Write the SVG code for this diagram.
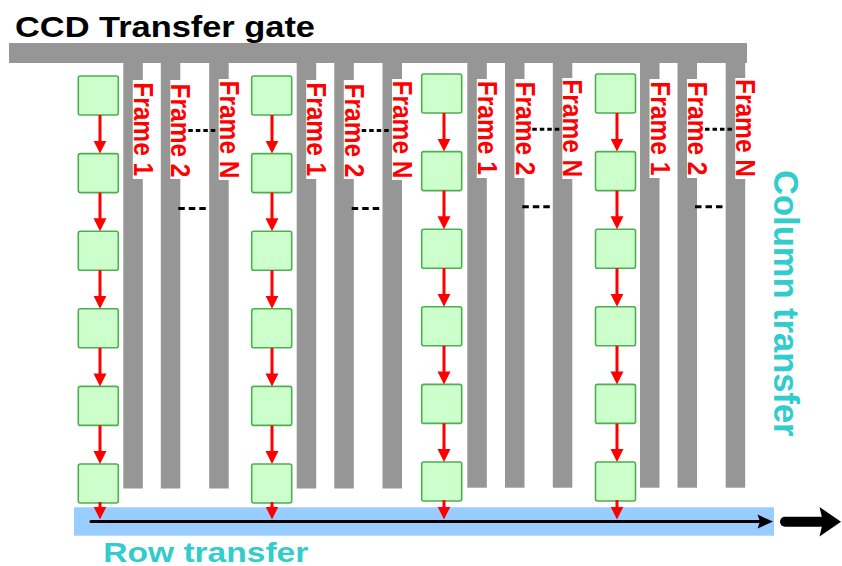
<svg xmlns="http://www.w3.org/2000/svg" width="842" height="566" viewBox="0 0 842 566">
  <style>
    .bar { fill: #969696; }
    .cell { fill: #ccffcc; stroke: #4caf50; stroke-width: 1.6; }
    .flow { stroke: #ff0000; stroke-width: 3; fill: none; marker-end: url(#redHead); }
    .lbl-bg { fill: #ffffff; }
    .frame { font-family: "Liberation Sans", Arial, sans-serif; font-weight: bold; font-size: 24.5px; fill: #ff0000; text-anchor: middle; }
    .dots1 { stroke: #000000; stroke-width: 3; stroke-dasharray: 4.5 3; }
    .dots2 { stroke: #000000; stroke-width: 3; stroke-dasharray: 6.5 4; }
    .title { font-family: "Liberation Sans", Arial, sans-serif; font-weight: bold; font-size: 30px; fill: #000000; }
    .cyan { font-family: "Liberation Sans", Arial, sans-serif; font-weight: bold; fill: #33cccc; }
  </style>
  <defs>
    <marker id="redHead" markerUnits="userSpaceOnUse" markerWidth="14" markerHeight="14" refX="7" refY="6.5" orient="auto">
      <path d="M0,0 L13,6.5 L0,13 Z" fill="#ff0000"/>
    </marker>
  </defs>

  <!-- title -->
  <text class="title" x="15" y="36.7" textLength="300" lengthAdjust="spacingAndGlyphs">CCD Transfer gate</text>

  <!-- transfer gate: top rail and vertical frame columns -->
  <g id="transfer-gate">
    <rect class="bar" x="9" y="43" width="738" height="20"/>
    <rect class="bar" x="123.3" y="62" width="19.5" height="426.5"/>
    <rect class="bar" x="160.8" y="62" width="19.5" height="426.5"/>
    <rect class="bar" x="209.2" y="62" width="19.5" height="426.5"/>
    <rect class="bar" x="296.7" y="62" width="19.5" height="426.5"/>
    <rect class="bar" x="334.3" y="62" width="19.5" height="426.5"/>
    <rect class="bar" x="382.5" y="62" width="19.5" height="426.5"/>
    <rect class="bar" x="467.3" y="62" width="19.5" height="425.7"/>
    <rect class="bar" x="505" y="62" width="19.5" height="425.7"/>
    <rect class="bar" x="552.8" y="62" width="19.5" height="425.7"/>
    <rect class="bar" x="640" y="62" width="19.5" height="425.7"/>
    <rect class="bar" x="677.5" y="62" width="19.5" height="425.7"/>
    <rect class="bar" x="725.7" y="62" width="19.5" height="425.7"/>
  </g>

  <!-- frame labels -->
  <g id="frame-labels">
    <rect class="lbl-bg" x="132.8" y="80" width="21" height="99"/>
    <rect class="lbl-bg" x="170.3" y="80" width="21" height="99"/>
    <rect class="lbl-bg" x="218.7" y="79" width="21" height="101"/>
    <rect class="lbl-bg" x="306.2" y="80" width="21" height="99"/>
    <rect class="lbl-bg" x="343.8" y="80" width="21" height="99"/>
    <rect class="lbl-bg" x="392" y="79" width="21" height="101"/>
    <rect class="lbl-bg" x="476.8" y="79" width="21" height="99"/>
    <rect class="lbl-bg" x="514.5" y="79" width="21" height="99"/>
    <rect class="lbl-bg" x="562.3" y="78" width="21" height="101"/>
    <rect class="lbl-bg" x="649.5" y="79" width="21" height="99"/>
    <rect class="lbl-bg" x="687" y="79" width="21" height="99"/>
    <rect class="lbl-bg" x="735.2" y="78" width="21" height="101"/>
    <text class="frame" transform="translate(133.8,129.2) rotate(90) scale(1,1.1)">Frame 1</text>
    <text class="frame" transform="translate(171.3,130.5) rotate(90) scale(1,1.1)">Frame 2</text>
    <text class="frame" transform="translate(219.7,129.5) rotate(90) scale(1,1.1)">Frame N</text>
    <text class="frame" transform="translate(307.2,129.2) rotate(90) scale(1,1.1)">Frame 1</text>
    <text class="frame" transform="translate(344.8,130.5) rotate(90) scale(1,1.1)">Frame 2</text>
    <text class="frame" transform="translate(393,129.5) rotate(90) scale(1,1.1)">Frame N</text>
    <text class="frame" transform="translate(477.8,127.8) rotate(90) scale(1,1.1)">Frame 1</text>
    <text class="frame" transform="translate(515.5,128.5) rotate(90) scale(1,1.1)">Frame 2</text>
    <text class="frame" transform="translate(563.3,128.3) rotate(90) scale(1,1.1)">Frame N</text>
    <text class="frame" transform="translate(650.5,128.3) rotate(90) scale(1,1.1)">Frame 1</text>
    <text class="frame" transform="translate(688,128.5) rotate(90) scale(1,1.1)">Frame 2</text>
    <text class="frame" transform="translate(736.2,128) rotate(90) scale(1,1.1)">Frame N</text>
  </g>

  <!-- ellipsis marks between frames -->
  <g id="ellipses">
    <line class="dots1" x1="188.3" y1="130.5" x2="215.3" y2="130.5"/>
    <line class="dots2" x1="178.3" y1="208.5" x2="205.8" y2="208.5"/>
    <line class="dots1" x1="361.7" y1="130.5" x2="388.7" y2="130.5"/>
    <line class="dots2" x1="351.7" y1="208.5" x2="379.2" y2="208.5"/>
    <line class="dots1" x1="532.3" y1="129.3" x2="559.3" y2="129.3"/>
    <line class="dots2" x1="522.3" y1="206.7" x2="549.8" y2="206.7"/>
    <line class="dots1" x1="705" y1="129.3" x2="732" y2="129.3"/>
    <line class="dots2" x1="695" y1="206.7" x2="722.5" y2="206.7"/>
  </g>

  <!-- horizontal readout register -->
  <g id="row-register">
    <rect x="74" y="507.3" width="700" height="28.4" fill="#99ccff"/>
  </g>

  <!-- pixel cells, column 1 -->
  <g id="c1-r1"><rect class="cell" x="78.3" y="76" width="40" height="39" rx="2"/></g>
  <g id="c1-r2"><rect class="cell" x="78.3" y="153.6" width="40" height="39" rx="2"/></g>
  <g id="c1-r3"><rect class="cell" x="78.3" y="231.2" width="40" height="39" rx="2"/></g>
  <g id="c1-r4"><rect class="cell" x="78.3" y="308.8" width="40" height="39" rx="2"/></g>
  <g id="c1-r5"><rect class="cell" x="78.3" y="386.4" width="40" height="39" rx="2"/></g>
  <g id="c1-r6"><rect class="cell" x="78.3" y="464" width="40" height="39" rx="2"/></g>
  <!-- column 2 -->
  <g id="c2-r1"><rect class="cell" x="251.7" y="76" width="40" height="39" rx="2"/></g>
  <g id="c2-r2"><rect class="cell" x="251.7" y="153.6" width="40" height="39" rx="2"/></g>
  <g id="c2-r3"><rect class="cell" x="251.7" y="231.2" width="40" height="39" rx="2"/></g>
  <g id="c2-r4"><rect class="cell" x="251.7" y="308.8" width="40" height="39" rx="2"/></g>
  <g id="c2-r5"><rect class="cell" x="251.7" y="386.4" width="40" height="39" rx="2"/></g>
  <g id="c2-r6"><rect class="cell" x="251.7" y="464" width="40" height="39" rx="2"/></g>
  <!-- column 3 -->
  <g id="c3-r1"><rect class="cell" x="421.7" y="74" width="40" height="39" rx="2"/></g>
  <g id="c3-r2"><rect class="cell" x="421.7" y="151.6" width="40" height="39" rx="2"/></g>
  <g id="c3-r3"><rect class="cell" x="421.7" y="229.2" width="40" height="39" rx="2"/></g>
  <g id="c3-r4"><rect class="cell" x="421.7" y="306.8" width="40" height="39" rx="2"/></g>
  <g id="c3-r5"><rect class="cell" x="421.7" y="384.4" width="40" height="39" rx="2"/></g>
  <g id="c3-r6"><rect class="cell" x="421.7" y="462" width="40" height="39" rx="2"/></g>
  <!-- column 4 -->
  <g id="c4-r1"><rect class="cell" x="595.5" y="74" width="40" height="39" rx="2"/></g>
  <g id="c4-r2"><rect class="cell" x="595.5" y="151.6" width="40" height="39" rx="2"/></g>
  <g id="c4-r3"><rect class="cell" x="595.5" y="229.2" width="40" height="39" rx="2"/></g>
  <g id="c4-r4"><rect class="cell" x="595.5" y="306.8" width="40" height="39" rx="2"/></g>
  <g id="c4-r5"><rect class="cell" x="595.5" y="384.4" width="40" height="39" rx="2"/></g>
  <g id="c4-r6"><rect class="cell" x="595.5" y="462" width="40" height="39" rx="2"/></g>

  <!-- charge shift connectors -->
  <g id="connectors">
    <line class="flow" x1="100" y1="115" x2="100" y2="147.6"/>
    <line class="flow" x1="100" y1="192.6" x2="100" y2="225.2"/>
    <line class="flow" x1="100" y1="270.2" x2="100" y2="302.8"/>
    <line class="flow" x1="100" y1="347.8" x2="100" y2="380.4"/>
    <line class="flow" x1="100" y1="425.4" x2="100" y2="458"/>
    <line class="flow" x1="100" y1="502" x2="100" y2="513.5"/>

    <line class="flow" x1="272" y1="115" x2="272" y2="147.6"/>
    <line class="flow" x1="272" y1="192.6" x2="272" y2="225.2"/>
    <line class="flow" x1="272" y1="270.2" x2="272" y2="302.8"/>
    <line class="flow" x1="272" y1="347.8" x2="272" y2="380.4"/>
    <line class="flow" x1="272" y1="425.4" x2="272" y2="458"/>
    <line class="flow" x1="272" y1="502" x2="272" y2="513.5"/>

    <line class="flow" x1="444" y1="113" x2="444" y2="145.6"/>
    <line class="flow" x1="444" y1="190.6" x2="444" y2="223.2"/>
    <line class="flow" x1="444" y1="268.2" x2="444" y2="300.8"/>
    <line class="flow" x1="444" y1="345.8" x2="444" y2="378.4"/>
    <line class="flow" x1="444" y1="423.4" x2="444" y2="456"/>
    <line class="flow" x1="444" y1="500" x2="444" y2="513.5"/>

    <line class="flow" x1="617" y1="113" x2="617" y2="145.6"/>
    <line class="flow" x1="617" y1="190.6" x2="617" y2="223.2"/>
    <line class="flow" x1="617" y1="268.2" x2="617" y2="300.8"/>
    <line class="flow" x1="617" y1="345.8" x2="617" y2="378.4"/>
    <line class="flow" x1="617" y1="423.4" x2="617" y2="456"/>
    <line class="flow" x1="617" y1="500" x2="617" y2="513.5"/>

    <!-- readout line along the register -->
    <line x1="91" y1="521.6" x2="760" y2="521.6" stroke="#000000" stroke-width="3" stroke-linecap="round"/>
    <path d="M773,521.6 L757.5,514.6 L760,521.6 L757.5,528.6 Z" fill="#000000"/>

    <!-- output arrow -->
    <line x1="785" y1="521.7" x2="824" y2="521.7" stroke="#000000" stroke-width="10" stroke-linecap="round"/>
    <path d="M841,521.7 L819.5,507 L823,521.7 L819.5,536.4 Z" fill="#000000"/>
  </g>

  <!-- axis captions -->
  <text class="cyan" font-size="34.5" text-anchor="middle" transform="translate(774,303.3) rotate(90)">Column transfer</text>
  <text class="cyan" font-size="28" x="103.3" y="561.7" textLength="205" lengthAdjust="spacingAndGlyphs">Row transfer</text>
</svg>
